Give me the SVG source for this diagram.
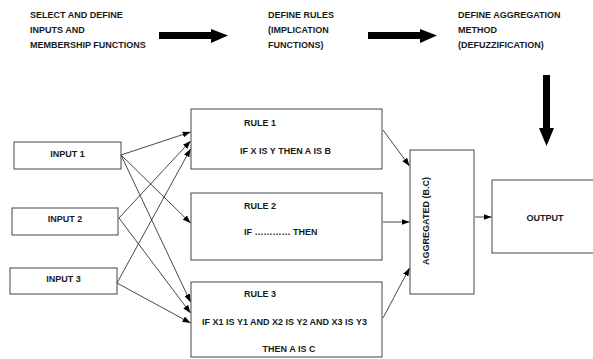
<svg xmlns="http://www.w3.org/2000/svg" width="593" height="359" viewBox="0 0 593 359">
<style>
text{font-family:"Liberation Sans",Arial,sans-serif;font-weight:bold;fill:#1a1a1a;}
.top{font-size:9px;}
.lbl{font-size:9px;}
.box{fill:#fff;stroke:#444;stroke-width:1;}
.con{stroke:#333;stroke-width:0.9;fill:none;marker-end:url(#ah);}
.big{fill:#000;}
</style>
<defs>
<marker id="ah" markerUnits="userSpaceOnUse" markerWidth="8" markerHeight="6" refX="8" refY="3" orient="auto">
<path d="M0,0 L8,3 L0,6 Z" fill="#000"/>
</marker>
</defs>
<g id="step1"><text class="top" x="30" y="18">SELECT AND DEFINE</text><text class="top" x="30" y="33">INPUTS AND</text><text class="top" x="30" y="48">MEMBERSHIP FUNCTIONS</text></g>
<g id="step2"><text class="top" x="268" y="18">DEFINE RULES</text><text class="top" x="268" y="33">(IMPLICATION</text><text class="top" x="268" y="48">FUNCTIONS)</text></g>
<g id="step3"><text class="top" x="458" y="18">DEFINE AGGREGATION</text><text class="top" x="458" y="33">METHOD</text><text class="top" x="458" y="48">(DEFUZZIFICATION)</text></g>
<g id="bigarrows">
<polygon class="big" points="159,32 211,32 211,29 228,35.5 211,43 211,39 159,39"/>
<polygon class="big" points="368,32 420,32 420,29 437,35.5 420,43 420,39 368,39"/>
<polygon class="big" points="543,75 550,75 550,128 554,128 546.5,146 539,128 543,128"/>
</g>
<g id="input1"><rect class="box" x="14" y="142" width="107" height="27"/><text class="lbl" x="67.5" y="157" text-anchor="middle">INPUT 1</text></g>
<g id="input2"><rect class="box" x="12" y="208" width="106" height="27"/><text class="lbl" x="65" y="222" text-anchor="middle">INPUT 2</text></g>
<g id="input3"><rect class="box" x="10" y="268" width="107" height="26"/><text class="lbl" x="63.5" y="282" text-anchor="middle">INPUT 3</text></g>
<g id="rule1"><rect class="box" x="191" y="109" width="191" height="60"/><text class="lbl" x="244" y="126">RULE 1</text><text class="lbl" x="285.5" y="154" text-anchor="middle">IF X IS Y THEN A IS B</text></g>
<g id="rule2"><rect class="box" x="191" y="193" width="191" height="67"/><text class="lbl" x="244" y="209">RULE 2</text><text class="lbl" x="244" y="235">IF ………… THEN</text></g>
<g id="rule3"><rect class="box" x="191" y="282" width="191" height="75"/><text class="lbl" x="244" y="297">RULE 3</text><text class="lbl" x="284.5" y="325" text-anchor="middle">IF X1 IS Y1 AND X2 IS Y2 AND X3 IS Y3</text><text class="lbl" x="289" y="352" text-anchor="middle">THEN A IS C</text></g>
<g id="aggregated"><rect class="box" x="410" y="150" width="64" height="144"/><text class="lbl" transform="translate(429,221) rotate(-90)" text-anchor="middle">AGGREGATED (B.C)</text></g>
<g id="output"><rect class="box" x="492" y="180" width="110" height="73"/><text class="lbl" x="545" y="221" text-anchor="middle">OUTPUT</text></g>
<g id="connectors">
<line class="con" x1="121" y1="155" x2="190.5" y2="132"/>
<line class="con" x1="121" y1="155" x2="190.5" y2="223"/>
<line class="con" x1="121" y1="155" x2="190.5" y2="302"/>
<line class="con" x1="119" y1="218" x2="190.5" y2="141"/>
<line class="con" x1="119" y1="218" x2="190.5" y2="313"/>
<line class="con" x1="117" y1="283" x2="190.5" y2="149"/>
<line class="con" x1="117" y1="283" x2="190.5" y2="323"/>
<line class="con" x1="383" y1="130" x2="409.5" y2="166"/>
<line class="con" x1="383" y1="222" x2="409.5" y2="222"/>
<line class="con" x1="383" y1="318" x2="409.5" y2="268"/>
<line class="con" x1="475" y1="217" x2="491.5" y2="217"/>
</g>
</svg>
